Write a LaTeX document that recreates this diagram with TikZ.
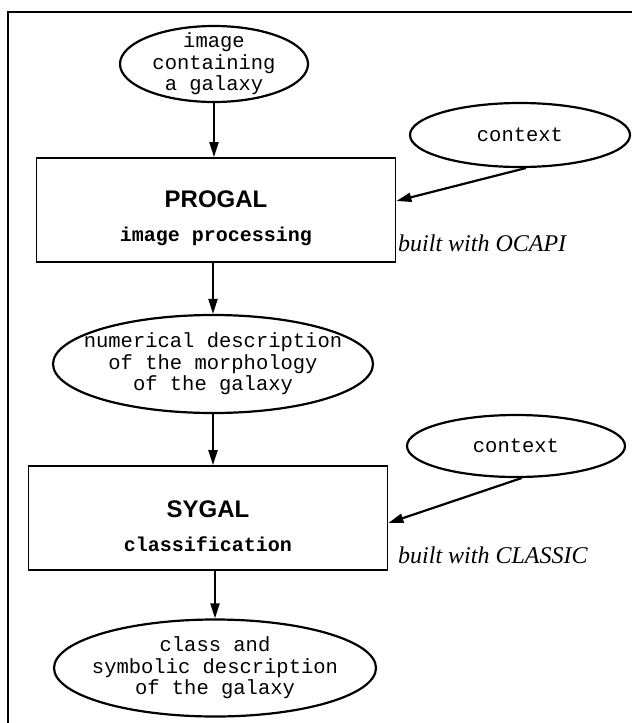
\documentclass[tikz,border=0pt]{standalone}
\usepackage{fontspec}
\setmainfont{Liberation Serif}
\setsansfont{Liberation Sans}
\setmonofont{Liberation Mono}
\usetikzlibrary{arrows.meta,shapes.geometric}

\begin{document}
\begin{tikzpicture}[x=1pt,y=-1pt,
  oval/.style={draw,ellipse,line width=2.2pt,inner xsep=-24pt,inner ysep=-9pt,
    align=center,font=\fontsize{20.5}{21.5}\selectfont\ttfamily},
  stage/.style={draw,rectangle,line width=1.8pt,inner sep=0pt,align=center,
    minimum width=359pt,minimum height=104pt},
  arr/.style={line width=2.2pt,-{Triangle[length=15pt,width=9pt]}},
  note/.style={anchor=west,inner sep=0pt,font=\fontsize{24}{26}\selectfont\itshape}]
\useasboundingbox (0,0) rectangle (632,723);
\draw[line width=2pt] (8,723) -- (8,12) -- (632,12);   % frame
% first stage
\node[oval,minimum width=188pt,minimum height=76pt] (img) at (214,64) {image\\containing\\a galaxy};
\node[oval,minimum width=220pt,minimum height=64pt] (ctx1) at (520,135) {context};
\node[stage] (progal) at (216,210)
  {\rule{0pt}{33pt}{\fontsize{24}{26}\selectfont\sffamily\bfseries PROGAL}\\[18pt]
   {\fontsize{20}{22}\selectfont\ttfamily\bfseries image processing}};
\node[note] (ocapi) at (398,243) {built with OCAPI};
\node[oval,minimum width=320pt,minimum height=98pt] (num) at (213,364)
  {numerical description\\of the morphology\\of the galaxy};
% second stage
\node[oval,minimum width=218pt,minimum height=62pt] (ctx2) at (516,446) {context};
\node[stage] (sygal) at (208,518)
  {\rule{0pt}{33pt}{\fontsize{24}{26}\selectfont\sffamily\bfseries SYGAL}\\[18pt]
   {\fontsize{20}{22}\selectfont\ttfamily\bfseries classification}};
\node[note] (classic) at (398,555) {built with CLASSIC};
\node[oval,minimum width=322pt,minimum height=97pt] (cls) at (215,668)
  {class and\\symbolic description\\of the galaxy};
% flow
\draw[arr] (img.south) -- (img.south |- progal.north);
\draw[arr] (progal.south -| num.north) -- (num.north);
\draw[arr] (num.south) -- (num.south |- sygal.north);
\draw[arr] (sygal.south -| cls.north) -- (cls.north);
\foreach \c/\b/\s in {ctx1/progal/9,ctx2/sygal/-5}
  { \draw[arr] (\c.-80) -- ([yshift=\s pt]\b.east); }
\end{tikzpicture}
\end{document}
